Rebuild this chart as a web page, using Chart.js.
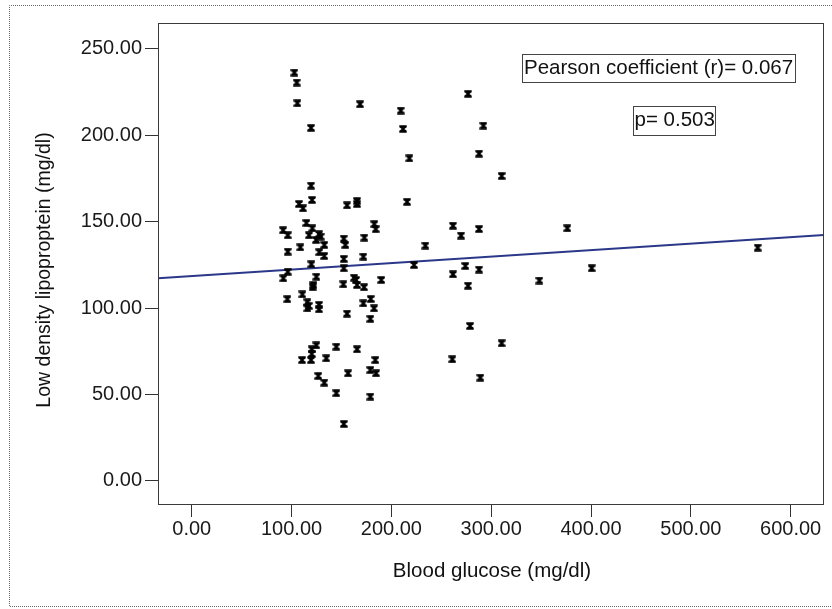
<!DOCTYPE html>
<html>
<head>
<meta charset="utf-8">
<script src="https://cdn.jsdelivr.net/npm/chart.js@4.4.1/dist/chart.umd.min.js"></script>
<style>
html,body{margin:0;padding:0;background:#fff;}
#wrap{position:relative;width:832px;height:609px;}
</style>
</head>
<body>
<div id="wrap"><canvas id="c" width="832" height="609"></canvas></div>
<script>
// Blood glucose (mg/dl)
const glucose = [102.8,105.2,105.8,168.6,209.4,276.8,119.5,211.7,292.1,218.0,
  287.8,310.5,119.5,120.5,107.5,111.5,155.6,165.6,165.6,215.7,
  114.8,120.8,91.5,96.2,117.5,127.5,129.2,124.5,132.8,127.8,
  132.8,96.2,108.8,182.9,184.3,152.3,153.9,172.9,171.9,152.3,
  152.3,119.8,96.2,91.8,124.8,121.8,121.2,151.9,162.6,164.6,
  165.6,172.6,189.9,222.7,234.0,261.7,269.8,287.8,261.7,274.1,
  287.8,276.8,95.8,110.8,115.8,117.2,115.8,127.5,127.5,155.6,
  171.9,179.3,182.6,178.9,278.8,310.5,124.8,120.2,120.2,110.5,
  119.5,134.8,144.8,165.6,183.9,178.9,184.6,156.6,126.8,132.8,
  144.8,178.9,152.3,261.0,289.1,376.2,400.7,567.0,348.2];
// Low density lipoprotein (mg/dl)
const ldl = [236.3,230.5,218.6,218.0,214.3,224.0,204.3,203.7,205.6,186.7,
  189.4,176.5,170.9,162.6,160.3,157.8,159.5,162.0,160.3,161.5,
  149.3,146.2,145.1,142.2,142.2,142.8,141.4,139.5,136.6,132.4,
  130.2,132.7,135.2,148.6,145.7,140.2,136.6,140.8,129.8,128.5,
  123.1,125.4,121.1,117.3,118.2,113.4,112.1,113.8,117.6,116.3,
  113.4,112.1,116.3,125.0,136.2,147.7,142.0,145.8,119.6,124.4,
  122.3,113.0,105.2,108.0,103.4,101.3,99.9,101.9,99.4,96.8,
  102.8,105.3,99.9,93.8,89.7,79.7,78.5,76.2,73.5,70.0,
  70.0,71.0,77.7,76.2,70.0,64.2,62.3,62.3,60.8,56.9,
  50.8,48.8,33.0,70.4,59.8,146.2,123.1,135.0,116.0];
// Fit line end points
const fitX = [-33.8, 633.4];
const fitY = [117.3, 142.4];
// Tick values
const xTicks = [0,100,200,300,400,500,600];
const yTicks = [0,50,100,150,200,250];
const xTitle = 'Blood glucose (mg/dl)';
const yTitle = 'Low density lipoproptein (mg/dl)';
const noteR = 'Pearson coefficient (r)= 0.067';
const noteP = 'p= 0.503';

const FONT = '"Liberation Sans", Arial, sans-serif';

const hourglass = (() => {
  const c = document.createElement('canvas');
  c.width = 8; c.height = 8;
  const g = c.getContext('2d');
  g.fillStyle = '#000';
  g.beginPath();
  g.moveTo(0.3,0.3); g.lineTo(7.7,0.3); g.lineTo(7.7,2.3); g.lineTo(5.3,4);
  g.lineTo(7.7,5.7); g.lineTo(7.7,7.7); g.lineTo(0.3,7.7); g.lineTo(0.3,5.7);
  g.lineTo(2.7,4); g.lineTo(0.3,2.3); g.closePath();
  g.fill();
  return c;
})();

const decor = {
  id: 'decor',
  beforeDraw(chart) {
    const ctx = chart.ctx;
    ctx.save();
    ctx.fillStyle = '#fff';
    ctx.fillRect(0, 0, chart.width, chart.height);
    ctx.strokeStyle = '#666';
    ctx.lineWidth = 1;
    ctx.setLineDash([1, 1]);
    ctx.beginPath();
    ctx.moveTo(840, 5.5); ctx.lineTo(9.5, 5.5); ctx.lineTo(9.5, 606.5); ctx.lineTo(840, 606.5);
    ctx.stroke();
    ctx.restore();
  },
  afterDraw(chart) {
    const ctx = chart.ctx, a = chart.chartArea;
    ctx.save();
    ctx.strokeStyle = '#3a3a3a';
    ctx.lineWidth = 1;
    ctx.strokeRect(Math.round(a.left) + 0.5, Math.round(a.top) + 0.5,
      Math.round(a.right - a.left) - 1, Math.round(a.bottom - a.top) - 1);
    // axis titles
    ctx.fillStyle = '#111';
    ctx.textBaseline = 'alphabetic';
    ctx.textAlign = 'center';
    ctx.font = '20.5px ' + FONT;
    ctx.fillText(xTitle, (a.left + a.right) / 2 + 1, 577);
    ctx.save();
    ctx.translate(50, 270);
    ctx.rotate(-Math.PI / 2);
    ctx.font = '19.5px ' + FONT;
    ctx.fillText(yTitle, 0, 0);
    ctx.restore();
    // notes
    ctx.textAlign = 'left';
    ctx.font = '20.5px ' + FONT;
    ctx.fillText(noteR, 524, 74);
    ctx.fillText(noteP, 634.5, 126);
    ctx.strokeStyle = '#444';
    ctx.strokeRect(522.5, 54.5, 273, 28);
    ctx.strokeRect(633.5, 106.5, 82, 29);
    ctx.restore();
  }
};

new Chart(document.getElementById('c'), {
  data: {
    datasets: [
      {
        type: 'scatter',
        data: glucose.map((x, i) => ({ x: x, y: ldl[i] })),
        pointStyle: hourglass,
        pointRadius: 4,
        pointHoverRadius: 4
      },
      {
        type: 'line',
        data: fitX.map((x, i) => ({ x: x, y: fitY[i] })),
        borderColor: '#2b3889',
        borderWidth: 2,
        pointRadius: 0,
        fill: false
      }
    ]
  },
  options: {
    responsive: false,
    animation: false,
    devicePixelRatio: 1,
    layout: { padding: { left: 0, right: 8, top: 23, bottom: 0 } },
    plugins: { legend: { display: false }, tooltip: { enabled: false } },
    scales: {
      x: {
        type: 'linear',
        min: fitX[0], max: fitX[1],
        afterBuildTicks: s => { s.ticks = xTicks.map(v => ({ value: v })); },
        afterFit: s => { s.height = 104; },
        grid: { drawOnChartArea: false, drawTicks: true, tickLength: 12, tickColor: '#333', lineWidth: 1 },
        border: { display: false },
        ticks: { padding: 0, color: '#1a1a1a', font: { family: FONT, size: 20 }, maxRotation: 0, autoSkip: false,
          callback: v => Number(v).toFixed(2) }
      },
      y: {
        type: 'linear',
        min: -13.9, max: 265,
        afterBuildTicks: s => { s.ticks = yTicks.map(v => ({ value: v })); },
        afterFit: s => { s.width = 158; },
        grid: { drawOnChartArea: false, drawTicks: true, tickLength: 13, tickColor: '#333', lineWidth: 1 },
        border: { display: false },
        ticks: { padding: 3, color: '#1a1a1a', font: { family: FONT, size: 20 }, autoSkip: false,
          callback: v => Number(v).toFixed(2) }
      }
    }
  },
  plugins: [decor]
});
</script>
</body>
</html>
